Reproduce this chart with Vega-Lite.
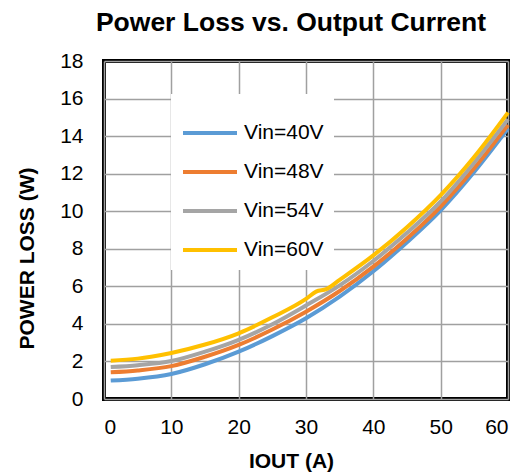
{
  "$schema": "https://vega.github.io/schema/vega-lite/v6.json",
  "width": 404,
  "height": 338,
  "autosize": "none",
  "padding": {"left": 104, "top": 61, "right": 22, "bottom": 76},
  "background": "white",
  "title": {
    "text": "Power Loss vs. Output Current",
    "font": "Liberation Sans",
    "fontSize": 26.5,
    "fontWeight": "bold",
    "color": "black",
    "frame": "group",
    "anchor": "middle",
    "dx": -15,
    "offset": 14
  },
  "config": {
    "view": {"stroke": "black", "strokeWidth": 4},
    "font": "Liberation Sans",
    "axis": {
      "grid": true,
      "gridColor": "#a0a0a0",
      "gridWidth": 1.5,
      "ticks": false,
      "domain": false,
      "labelFont": "Liberation Sans",
      "labelFontSize": 21,
      "labelColor": "black",
      "titleFont": "Liberation Sans",
      "titleFontSize": 21,
      "titleFontWeight": "bold",
      "titleColor": "black"
    }
  },
  "data": {
    "values": [
      {"I": 1, "P": 0.98, "Vin": "Vin=40V"},
      {"I": 5, "P": 1.08, "Vin": "Vin=40V"},
      {"I": 10, "P": 1.33, "Vin": "Vin=40V"},
      {"I": 15, "P": 1.85, "Vin": "Vin=40V"},
      {"I": 20, "P": 2.52, "Vin": "Vin=40V"},
      {"I": 25, "P": 3.35, "Vin": "Vin=40V"},
      {"I": 30, "P": 4.3, "Vin": "Vin=40V"},
      {"I": 35, "P": 5.45, "Vin": "Vin=40V"},
      {"I": 40, "P": 6.8, "Vin": "Vin=40V"},
      {"I": 45, "P": 8.35, "Vin": "Vin=40V"},
      {"I": 50, "P": 10.05, "Vin": "Vin=40V"},
      {"I": 55, "P": 12.1, "Vin": "Vin=40V"},
      {"I": 60, "P": 14.4, "Vin": "Vin=40V"},
      {"I": 1, "P": 1.42, "Vin": "Vin=48V"},
      {"I": 5, "P": 1.52, "Vin": "Vin=48V"},
      {"I": 10, "P": 1.75, "Vin": "Vin=48V"},
      {"I": 15, "P": 2.25, "Vin": "Vin=48V"},
      {"I": 20, "P": 2.88, "Vin": "Vin=48V"},
      {"I": 25, "P": 3.7, "Vin": "Vin=48V"},
      {"I": 30, "P": 4.65, "Vin": "Vin=48V"},
      {"I": 35, "P": 5.75, "Vin": "Vin=48V"},
      {"I": 40, "P": 7.05, "Vin": "Vin=48V"},
      {"I": 45, "P": 8.55, "Vin": "Vin=48V"},
      {"I": 50, "P": 10.25, "Vin": "Vin=48V"},
      {"I": 55, "P": 12.3, "Vin": "Vin=48V"},
      {"I": 60, "P": 14.6, "Vin": "Vin=48V"},
      {"I": 1, "P": 1.7, "Vin": "Vin=54V"},
      {"I": 5, "P": 1.8, "Vin": "Vin=54V"},
      {"I": 10, "P": 2.02, "Vin": "Vin=54V"},
      {"I": 15, "P": 2.52, "Vin": "Vin=54V"},
      {"I": 20, "P": 3.15, "Vin": "Vin=54V"},
      {"I": 25, "P": 3.98, "Vin": "Vin=54V"},
      {"I": 30, "P": 4.98, "Vin": "Vin=54V"},
      {"I": 35, "P": 6.05, "Vin": "Vin=54V"},
      {"I": 40, "P": 7.35, "Vin": "Vin=54V"},
      {"I": 45, "P": 8.85, "Vin": "Vin=54V"},
      {"I": 50, "P": 10.52, "Vin": "Vin=54V"},
      {"I": 55, "P": 12.6, "Vin": "Vin=54V"},
      {"I": 60, "P": 14.9, "Vin": "Vin=54V"},
      {"I": 1, "P": 2.04, "Vin": "Vin=60V"},
      {"I": 5, "P": 2.15, "Vin": "Vin=60V"},
      {"I": 7, "P": 2.25, "Vin": "Vin=60V"},
      {"I": 10, "P": 2.45, "Vin": "Vin=60V"},
      {"I": 15, "P": 2.9, "Vin": "Vin=60V"},
      {"I": 20, "P": 3.5, "Vin": "Vin=60V"},
      {"I": 25, "P": 4.35, "Vin": "Vin=60V"},
      {"I": 30, "P": 5.33, "Vin": "Vin=60V"},
      {"I": 31.5, "P": 5.72, "Vin": "Vin=60V"},
      {"I": 33, "P": 5.85, "Vin": "Vin=60V"},
      {"I": 35, "P": 6.35, "Vin": "Vin=60V"},
      {"I": 40, "P": 7.65, "Vin": "Vin=60V"},
      {"I": 45, "P": 9.15, "Vin": "Vin=60V"},
      {"I": 50, "P": 10.86, "Vin": "Vin=60V"},
      {"I": 55, "P": 12.9, "Vin": "Vin=60V"},
      {"I": 60, "P": 15.25, "Vin": "Vin=60V"}
    ]
  },
  "mark": {"type": "line", "strokeWidth": 4, "interpolate": "monotone"},
  "encoding": {
    "x": {
      "field": "I",
      "type": "quantitative",
      "scale": {"domain": [0, 60], "nice": false},
      "axis": {
        "values": [0, 10, 20, 30, 40, 50, 60],
        "labelPadding": 17,
        "title": "IOUT (A)",
        "titleX": 187,
        "titleY": 68,
        "titleBaseline": "alphabetic"
      }
    },
    "y": {
      "field": "P",
      "type": "quantitative",
      "scale": {"domain": [0, 18], "nice": false},
      "axis": {
        "values": [0, 2, 4, 6, 8, 10, 12, 14, 16, 18],
        "labelPadding": 21,
        "title": "POWER LOSS (W)",
        "titleX": -71,
        "titleY": 197,
        "titleBaseline": "alphabetic",
        "titleFontSize": 21
      }
    },
    "color": {
      "field": "Vin",
      "type": "nominal",
      "scale": {
        "domain": ["Vin=40V", "Vin=48V", "Vin=54V", "Vin=60V"],
        "range": ["#5B9BD5", "#ED7D31", "#A5A5A5", "#FFC000"]
      },
      "legend": {
        "title": null,
        "orient": "none",
        "legendX": 67,
        "legendY": 33,
        "fillColor": "white",
        "padding": 10,
        "symbolType": "stroke",
        "symbolSize": 2916,
        "symbolStrokeWidth": 4,
        "labelFont": "Liberation Sans",
        "labelFontSize": 21,
        "labelColor": "black",
        "labelOffset": 5,
        "rowPadding": 0
      }
    }
  }
}
